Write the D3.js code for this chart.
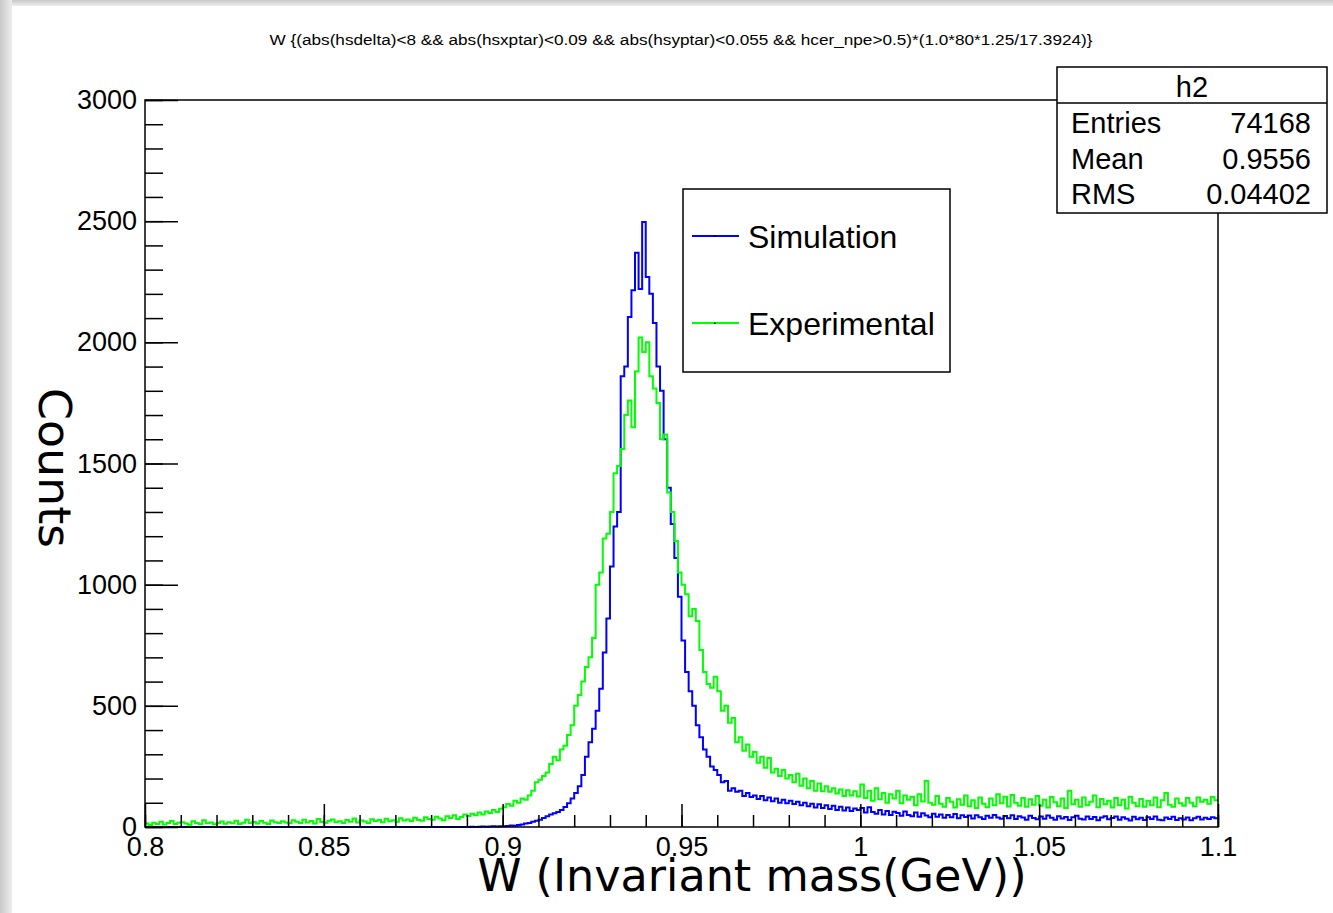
<!DOCTYPE html>
<html><head><meta charset="utf-8">
<script src="https://cdn.jsdelivr.net/npm/d3@7"></script>
<style>
html,body{margin:0;padding:0;background:#fff;}
svg{display:block;}
</style></head>
<body>
<svg id="chart" width="1333" height="913"></svg>
<script>
// ---- data (bin width 0.001 from 0.800 to 1.100) ----
const binStart = 0.8;
const binWidth = 0.001;

const simulation = [
0,0,0,0,0,0,0,0,0,0,
0,0,0,0,0,0,0,0,0,0,
0,0,0,0,0,0,0,0,0,0,
0,0,0,0,0,0,0,0,0,0,
0,0,0,0,0,0,0,0,0,0,
0,0,0,0,0,0,0,0,0,0,
0,0,0,0,0,0,0,0,0,0,
0,0,0,0,0,0,0,0,0,0,
0,0,0,0,0,0,0,0,0,0,
0,1,0,1,2,1,2,3,2,3,
3,4,6,5,8,10,14,17,22,26,
30,37,44,52,57,62,70,83,98,118,
140,168,215,290,350,405,480,570,720,860,
1075,1240,1300,1860,1900,2105,2215,2370,2220,2497,
2270,2200,2080,1900,1800,1600,1400,1250,1110,950,
770,640,560,500,420,370,320,290,250,235,
215,185,190,150,160,145,150,128,140,124,
130,116,128,110,122,106,118,100,112,98,
108,95,104,90,100,86,96,80,94,78,
90,74,88,70,84,68,80,66,76,70,
78,60,82,62,55,70,52,66,50,63,
58,46,64,50,44,60,42,57,47,40,
55,42,52,38,50,40,54,36,48,41,
47,35,49,40,33,46,38,50,39,34,
45,36,48,33,44,39,30,46,37,32,
43,34,47,38,30,44,35,41,29,40,
46,34,31,43,33,41,28,39,44,32,
37,43,30,40,34,27,42,32,38,29,
40,33,43,30,28,39,33,42,29,36,
31,39,28,36,42,31,38,33,40,36
];

const experimental = [
14,8,18,12,22,10,16,25,12,18,
20,14,9,24,16,12,28,15,19,11,
17,23,13,20,15,26,12,18,30,16,
21,14,25,18,12,27,20,16,24,19,
15,28,22,17,30,19,25,14,33,21,
18,26,31,20,24,16,29,22,35,19,
27,23,17,32,25,29,20,34,24,28,
22,36,27,31,25,38,29,26,40,33,
30,42,35,28,44,37,48,33,41,52,
45,55,48,60,52,64,58,70,62,75,
82,95,88,108,100,118,112,130,150,185,
195,210,225,260,290,275,320,335,380,420,
500,545,600,660,700,780,1000,1050,1190,1210,
1300,1460,1490,1560,1700,1760,1650,1880,2020,1960,
2000,1860,1810,1750,1600,1620,1380,1300,1180,1050,
1000,960,870,900,850,730,640,590,575,620,
560,480,500,430,450,350,370,315,340,290,
310,265,290,245,285,225,240,210,235,200,
215,185,220,170,200,160,190,150,180,148,
168,145,160,138,155,128,152,130,148,126,
175,120,150,108,160,115,140,100,135,118,
150,98,130,112,125,90,135,105,190,100,
92,128,96,84,120,104,80,115,92,130,
86,110,78,122,96,82,118,90,135,98,
125,85,132,100,88,120,84,114,92,128,
88,112,80,124,102,86,118,78,150,94,
112,84,122,90,104,130,82,116,94,108,
80,120,90,112,76,125,100,86,116,84,
108,90,122,82,110,140,92,84,118,98,
88,120,100,86,122,104,112,96,124,110
];

const xTickValues = [0.8, 0.85, 0.9, 0.95, 1.0, 1.05, 1.1];
const xTickLabels = ["0.8", "0.85", "0.9", "0.95", "1", "1.05", "1.1"];
const yTickValues = [0, 500, 1000, 1500, 2000, 2500, 3000];
const yTickLabels = ["0", "500", "1000", "1500", "2000", "2500", "3000"];
const seriesNames = ["Simulation", "Experimental"];
const seriesColors = ["#0000ff", "#00ff00"];
const statsTitle = "h2";
const statsNames = ["Entries", "Mean", "RMS"];
const statsValues = ["74168", "0.9556", "0.04402"];
const chartTitle = "W {(abs(hsdelta)<8 && abs(hsxptar)<0.09 && abs(hsyptar)<0.055 && hcer_npe>0.5)*(1.0*80*1.25/17.3924)}";
const xTitle = "W (Invariant mass(GeV))";
const yTitle = "Counts";

// ---- drawing ----
const svg = d3.select("#chart");
const L = 145, R = 1218, T = 100, B = 827;
const x = d3.scaleLinear().domain([0.8, 1.1]).range([L, R]);
const y = d3.scaleLinear().domain([0, 3000]).range([B, T]);

// background edge shading
const defs = svg.append("defs");
const gl = defs.append("linearGradient").attr("id", "lg").attr("x1", "0").attr("x2", "1").attr("y1", "0").attr("y2", "0");
gl.append("stop").attr("offset", "0").attr("stop-color", "#c9c9c9");
gl.append("stop").attr("offset", "1").attr("stop-color", "#ededed");
const gt = defs.append("linearGradient").attr("id", "tg").attr("x1", "0").attr("x2", "0").attr("y1", "0").attr("y2", "1");
gt.append("stop").attr("offset", "0").attr("stop-color", "#c8c8c8");
gt.append("stop").attr("offset", "1").attr("stop-color", "#eeeeee");
svg.append("rect").attr("x", 0).attr("y", 0).attr("width", 1333).attr("height", 913).attr("fill", "#fff");
svg.append("rect").attr("x", 0).attr("y", 0).attr("width", 1333).attr("height", 6).attr("fill", "url(#tg)");
svg.append("rect").attr("x", 0).attr("y", 0).attr("width", 12).attr("height", 913).attr("fill", "url(#lg)");

// title
svg.append("text").attr("x", 681).attr("y", 45).attr("text-anchor", "middle")
  .attr("font-family", "Liberation Sans, Arial, sans-serif").attr("font-size", 14)
  .attr("textLength", 823).attr("lengthAdjust", "spacingAndGlyphs")
  .attr("fill", "#000").text(chartTitle);

// histograms
function histPoints(vals) {
  const pts = vals.map((v, i) => [binStart + i * binWidth, v]);
  pts.push([binStart + vals.length * binWidth, vals[vals.length - 1]]);
  return pts;
}
const line = d3.line().x(d => x(d[0])).y(d => y(d[1])).curve(d3.curveStepAfter);
const plot = svg.append("g");
[simulation, experimental].forEach((vals, k) => {
  plot.append("path").attr("d", line(histPoints(vals)))
    .attr("fill", "none").attr("stroke", seriesColors[k]).attr("stroke-width", 2);
});

// axes
const fontAxis = "Liberation Sans, Arial, sans-serif";
const yAxisMinor = d3.axisLeft(y).tickValues(d3.range(0, 3001, 100)).tickSize(-18).tickFormat("");
const yAxisMajor = d3.axisLeft(y).tickValues(yTickValues).tickSize(-33).tickPadding(8)
  .tickFormat((d, i) => yTickLabels[i]);
const gy1 = svg.append("g").attr("transform", `translate(${L},0)`).call(yAxisMinor);
const gy2 = svg.append("g").attr("transform", `translate(${L},0)`).call(yAxisMajor);
const xAxisMinor = d3.axisBottom(x).tickValues(d3.range(0, 31).map(i => 0.8 + i * 0.01)).tickSize(-12).tickFormat("");
const xAxisMajor = d3.axisBottom(x).tickValues(xTickValues).tickSize(-23).tickPadding(10)
  .tickFormat((d, i) => xTickLabels[i]);
const gx1 = svg.append("g").attr("transform", `translate(0,${B})`).call(xAxisMinor);
const gx2 = svg.append("g").attr("transform", `translate(0,${B})`).call(xAxisMajor);
[gy1, gy2, gx1, gx2].forEach(g => {
  g.select(".domain").remove();
  g.selectAll("line").attr("stroke", "#000").attr("stroke-width", 1.5);
  g.selectAll("text").attr("font-family", fontAxis).attr("font-size", 27).attr("fill", "#000");
});

// frame
svg.append("rect").attr("x", L).attr("y", T).attr("width", R - L).attr("height", B - T)
  .attr("fill", "none").attr("stroke", "#000").attr("stroke-width", 1.5);

// axis titles
svg.append("text").attr("x", 752).attr("y", 891).attr("text-anchor", "middle")
  .attr("font-family", "DejaVu Sans, Verdana, sans-serif").attr("font-size", 44)
  .attr("textLength", 549).attr("lengthAdjust", "spacingAndGlyphs").attr("fill", "#000").text(xTitle);
svg.append("text").attr("transform", "translate(39,468) rotate(90)").attr("text-anchor", "middle")
  .attr("font-family", "DejaVu Sans, Verdana, sans-serif").attr("font-size", 44)
  .attr("textLength", 160).attr("lengthAdjust", "spacingAndGlyphs").attr("fill", "#000").text(yTitle);

// legend
const lg = svg.append("g");
lg.append("rect").attr("x", 683).attr("y", 189).attr("width", 267).attr("height", 183)
  .attr("fill", "#fff").attr("stroke", "#000").attr("stroke-width", 1.5);
const legY = [236, 323];
seriesNames.forEach((n, k) => {
  lg.append("line").attr("x1", 692).attr("x2", 739).attr("y1", legY[k]).attr("y2", legY[k])
    .attr("stroke", seriesColors[k]).attr("stroke-width", 2);
  lg.append("rect").attr("x", 714).attr("y", legY[k] - 0.5).attr("width", 1.5).attr("height", 1.5).attr("fill", "#000");
  lg.append("text").attr("x", 748).attr("y", legY[k] + 12).attr("font-family", fontAxis)
    .attr("font-size", 32).attr("fill", "#000").text(n);
});

// stats box
const sb = svg.append("g");
sb.append("rect").attr("x", 1057).attr("y", 67).attr("width", 270).attr("height", 146)
  .attr("fill", "#fff").attr("stroke", "#000").attr("stroke-width", 1.5);
sb.append("line").attr("x1", 1057).attr("x2", 1327).attr("y1", 103).attr("y2", 103)
  .attr("stroke", "#000").attr("stroke-width", 1.5);
sb.append("text").attr("x", 1192).attr("y", 97).attr("text-anchor", "middle")
  .attr("font-family", fontAxis).attr("font-size", 29).attr("fill", "#000").text(statsTitle);
const rowY = [133, 169, 204];
statsNames.forEach((n, i) => {
  sb.append("text").attr("x", 1071).attr("y", rowY[i]).attr("font-family", fontAxis)
    .attr("font-size", 29).attr("fill", "#000").text(n);
  sb.append("text").attr("x", 1311).attr("y", rowY[i]).attr("text-anchor", "end").attr("font-family", fontAxis)
    .attr("font-size", 29).attr("fill", "#000").text(statsValues[i]);
});
</script>
</body></html>
